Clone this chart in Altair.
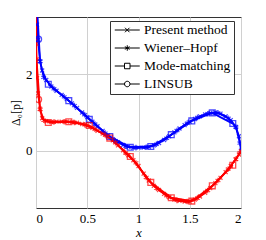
import altair as alt
import pandas as pd

# ---------------- data ----------------
methods = ["Present method", "Wiener–Hopf", "Mode-matching", "LINSUB"]

present_x = [0.001, 0.003, 0.01, 0.02, 0.04, 0.06, 0.1, 0.15, 0.2, 0.25, 0.3, 0.35, 0.4,
             0.45, 0.5, 0.55, 0.6, 0.65, 0.7, 0.75, 0.8, 0.85, 0.9, 0.95, 1.0, 1.05, 1.1,
             1.15, 1.2, 1.25, 1.3, 1.35, 1.4, 1.45, 1.5, 1.55, 1.6, 1.65, 1.7, 1.75, 1.8,
             1.85, 1.9, 1.95, 1.98, 2.0]
present_re = [5.0, 4.2, 3.3, 2.9, 2.34, 2.1, 1.85, 1.68, 1.57, 1.46, 1.35, 1.24, 1.12,
              1.0, 0.88, 0.76, 0.64, 0.52, 0.40, 0.30, 0.22, 0.15, 0.10, 0.08, 0.08, 0.08,
              0.10, 0.14, 0.20, 0.28, 0.38, 0.48, 0.58, 0.67, 0.76, 0.83, 0.90, 0.95, 0.99,
              1.00, 0.97, 0.90, 0.80, 0.62, 0.38, 0.0]
present_im = [3.9, 2.8, 1.9, 1.5, 1.1, 0.85, 0.77, 0.75, 0.76, 0.76, 0.76, 0.75, 0.73,
              0.70, 0.66, 0.60, 0.52, 0.45, 0.37, 0.27, 0.14, 0.01, -0.12, -0.25, -0.40,
              -0.60, -0.78, -0.92, -1.03, -1.13, -1.22, -1.28, -1.31, -1.33, -1.33, -1.28,
              -1.20, -1.10, -0.98, -0.85, -0.71, -0.56, -0.40, -0.22, -0.10, -0.02]

wh_x = [0.005, 0.04, 0.075, 0.175, 0.275, 0.375, 0.475, 0.575, 0.675, 0.775, 0.875,
        0.975, 1.075, 1.175, 1.275, 1.375, 1.475, 1.575, 1.675, 1.775, 1.875, 1.95, 1.99]
wh_re = [4.0, 2.34, 1.92, 1.62, 1.41, 1.18, 0.94, 0.70, 0.46, 0.26, 0.12, 0.08, 0.09,
         0.17, 0.33, 0.53, 0.72, 0.87, 0.97, 0.99, 0.85, 0.62, 0.2]
wh_im = [2.4, 1.08, 0.80, 0.75, 0.76, 0.74, 0.68, 0.56, 0.41, 0.21, -0.06, -0.32, -0.70,
         -0.98, -1.18, -1.30, -1.33, -1.24, -1.04, -0.78, -0.48, -0.22, -0.05]

mm_x = [0.12, 0.32, 0.52, 0.72, 0.92, 1.12, 1.32, 1.52, 1.72, 1.92]
mm_re = [1.74, 1.31, 0.82, 0.37, 0.09, 0.11, 0.42, 0.78, 0.99, 0.71]
mm_im = [0.74, 0.76, 0.66, 0.33, -0.15, -0.83, -1.23, -1.32, -0.92, -0.38]

linsub_x = [0.025]
linsub_re = [2.92]
linsub_im = [1.34]

# ---------------- table ----------------
rows = []
def add(method, xs, re, im):
    for x, a, b in zip(xs, re, im):
        rows.append({"method": method, "comp": "re", "series": method + "-re", "x": x, "y": a})
        rows.append({"method": method, "comp": "im", "series": method + "-im", "x": x, "y": b})

add("Present method", present_x, present_re, present_im)
add("Wiener–Hopf", wh_x, wh_re, wh_im)
add("Mode-matching", mm_x, mm_re, mm_im)
add("LINSUB", linsub_x, linsub_re, linsub_im)
df = pd.DataFrame(rows)
line_df = df[df["method"] != "LINSUB"]

FONT = "Liberation Serif"

xs = alt.X("x:Q", scale=alt.Scale(domain=[0, 2], nice=False),
           axis=alt.Axis(values=[0, 0.5, 1, 1.5, 2], format=".1~f", title="x",
                         titleFontStyle="italic"))
ys = alt.Y("y:Q", scale=alt.Scale(domain=[-1.5, 3.5], nice=False),
           axis=alt.Axis(values=[0, 2], format="d", title="Δ₀[p]", titleFontSize=12))
color = alt.Color("comp:N", scale=alt.Scale(domain=["re", "im"], range=["#0000ff", "#ff0000"]),
                  legend=None)

lines = alt.Chart(line_df).mark_line(clip=True, strokeWidth=1.8).encode(
    x=xs, y=ys, color=color, detail="series:N", order="x:Q")

marker_paths = [
    "M-0.75,-0.75L0.75,0.75M-0.75,0.75L0.75,-0.75",
    "M0,-1L0,1M-0.87,-0.5L0.87,0.5M-0.87,0.5L0.87,-0.5",
    "M-1,-1L1,-1L1,1L-1,1Z",
    "M-1,0A1,1 0 1,0 1,0A1,1 0 1,0 -1,0Z",
]
points = alt.Chart(df).mark_point(clip=True, filled=False, strokeWidth=1.3).encode(
    x=xs, y=ys, color=color,
    shape=alt.Shape("method:N", scale=alt.Scale(domain=methods, range=marker_paths), legend=None),
    size=alt.Size("method:N", scale=alt.Scale(domain=methods, range=[28, 36, 44, 48]), legend=None),
)

legend_paths = [
    "M-2.5,0L2.5,0M-0.45,-0.45L0.45,0.45M-0.45,0.45L0.45,-0.45",
    "M-2.5,0L2.5,0M0,-0.55L0,0.55M-0.48,-0.27L0.48,0.27M-0.48,0.27L0.48,-0.27",
    "M-2.5,0L-0.55,0M0.55,0L2.5,0M-0.55,-0.55L0.55,-0.55L0.55,0.55L-0.55,0.55Z",
    "M-2.5,0L-0.55,0M0.55,0L2.5,0M-0.55,0A0.55,0.55 0 1,0 0.55,0A0.55,0.55 0 1,0 -0.55,0Z",
]
legend_layer = alt.Chart(df).mark_point(filled=False, opacity=0, size=100, color="black").encode(
    x=xs, y=ys,
    shape=alt.Shape("method:N", scale=alt.Scale(domain=methods, range=legend_paths),
                    legend=alt.Legend(title=None, orient="none", legendX=74, legendY=4,
                                      symbolOpacity=1, symbolStrokeColor="black",
                                      symbolStrokeWidth=1, symbolSize=100,
                                      symbolOffset=7.5, labelOffset=10, clipHeight=12)),
)

chart = alt.layer(lines, points, legend_layer).resolve_scale(shape="independent").properties(
    width=205, height=191,
    autosize=alt.AutoSizeParams(type="none"),
    padding={"left": 28, "top": 9, "right": 17, "bottom": 32},
).configure_view(stroke="#333", strokeWidth=1).configure_axis(
    grid=True, gridColor="#d0d0d0", gridWidth=1, domain=False, ticks=False,
    labelFont=FONT, labelFontSize=13, labelColor="#000", labelPadding=4,
    titleFont=FONT, titleFontSize=13, titleFontWeight="normal", titleColor="#000",
).configure_axisX(titlePadding=1).configure_axisY(titlePadding=3).configure_legend(
    fillColor="white", strokeColor="#333", padding=3, labelFont=FONT, labelFontSize=13.5,
    labelColor="#000", rowPadding=4, cornerRadius=0,
)

chart.save("out.html", embed_options={"renderer": "svg", "actions": False})
